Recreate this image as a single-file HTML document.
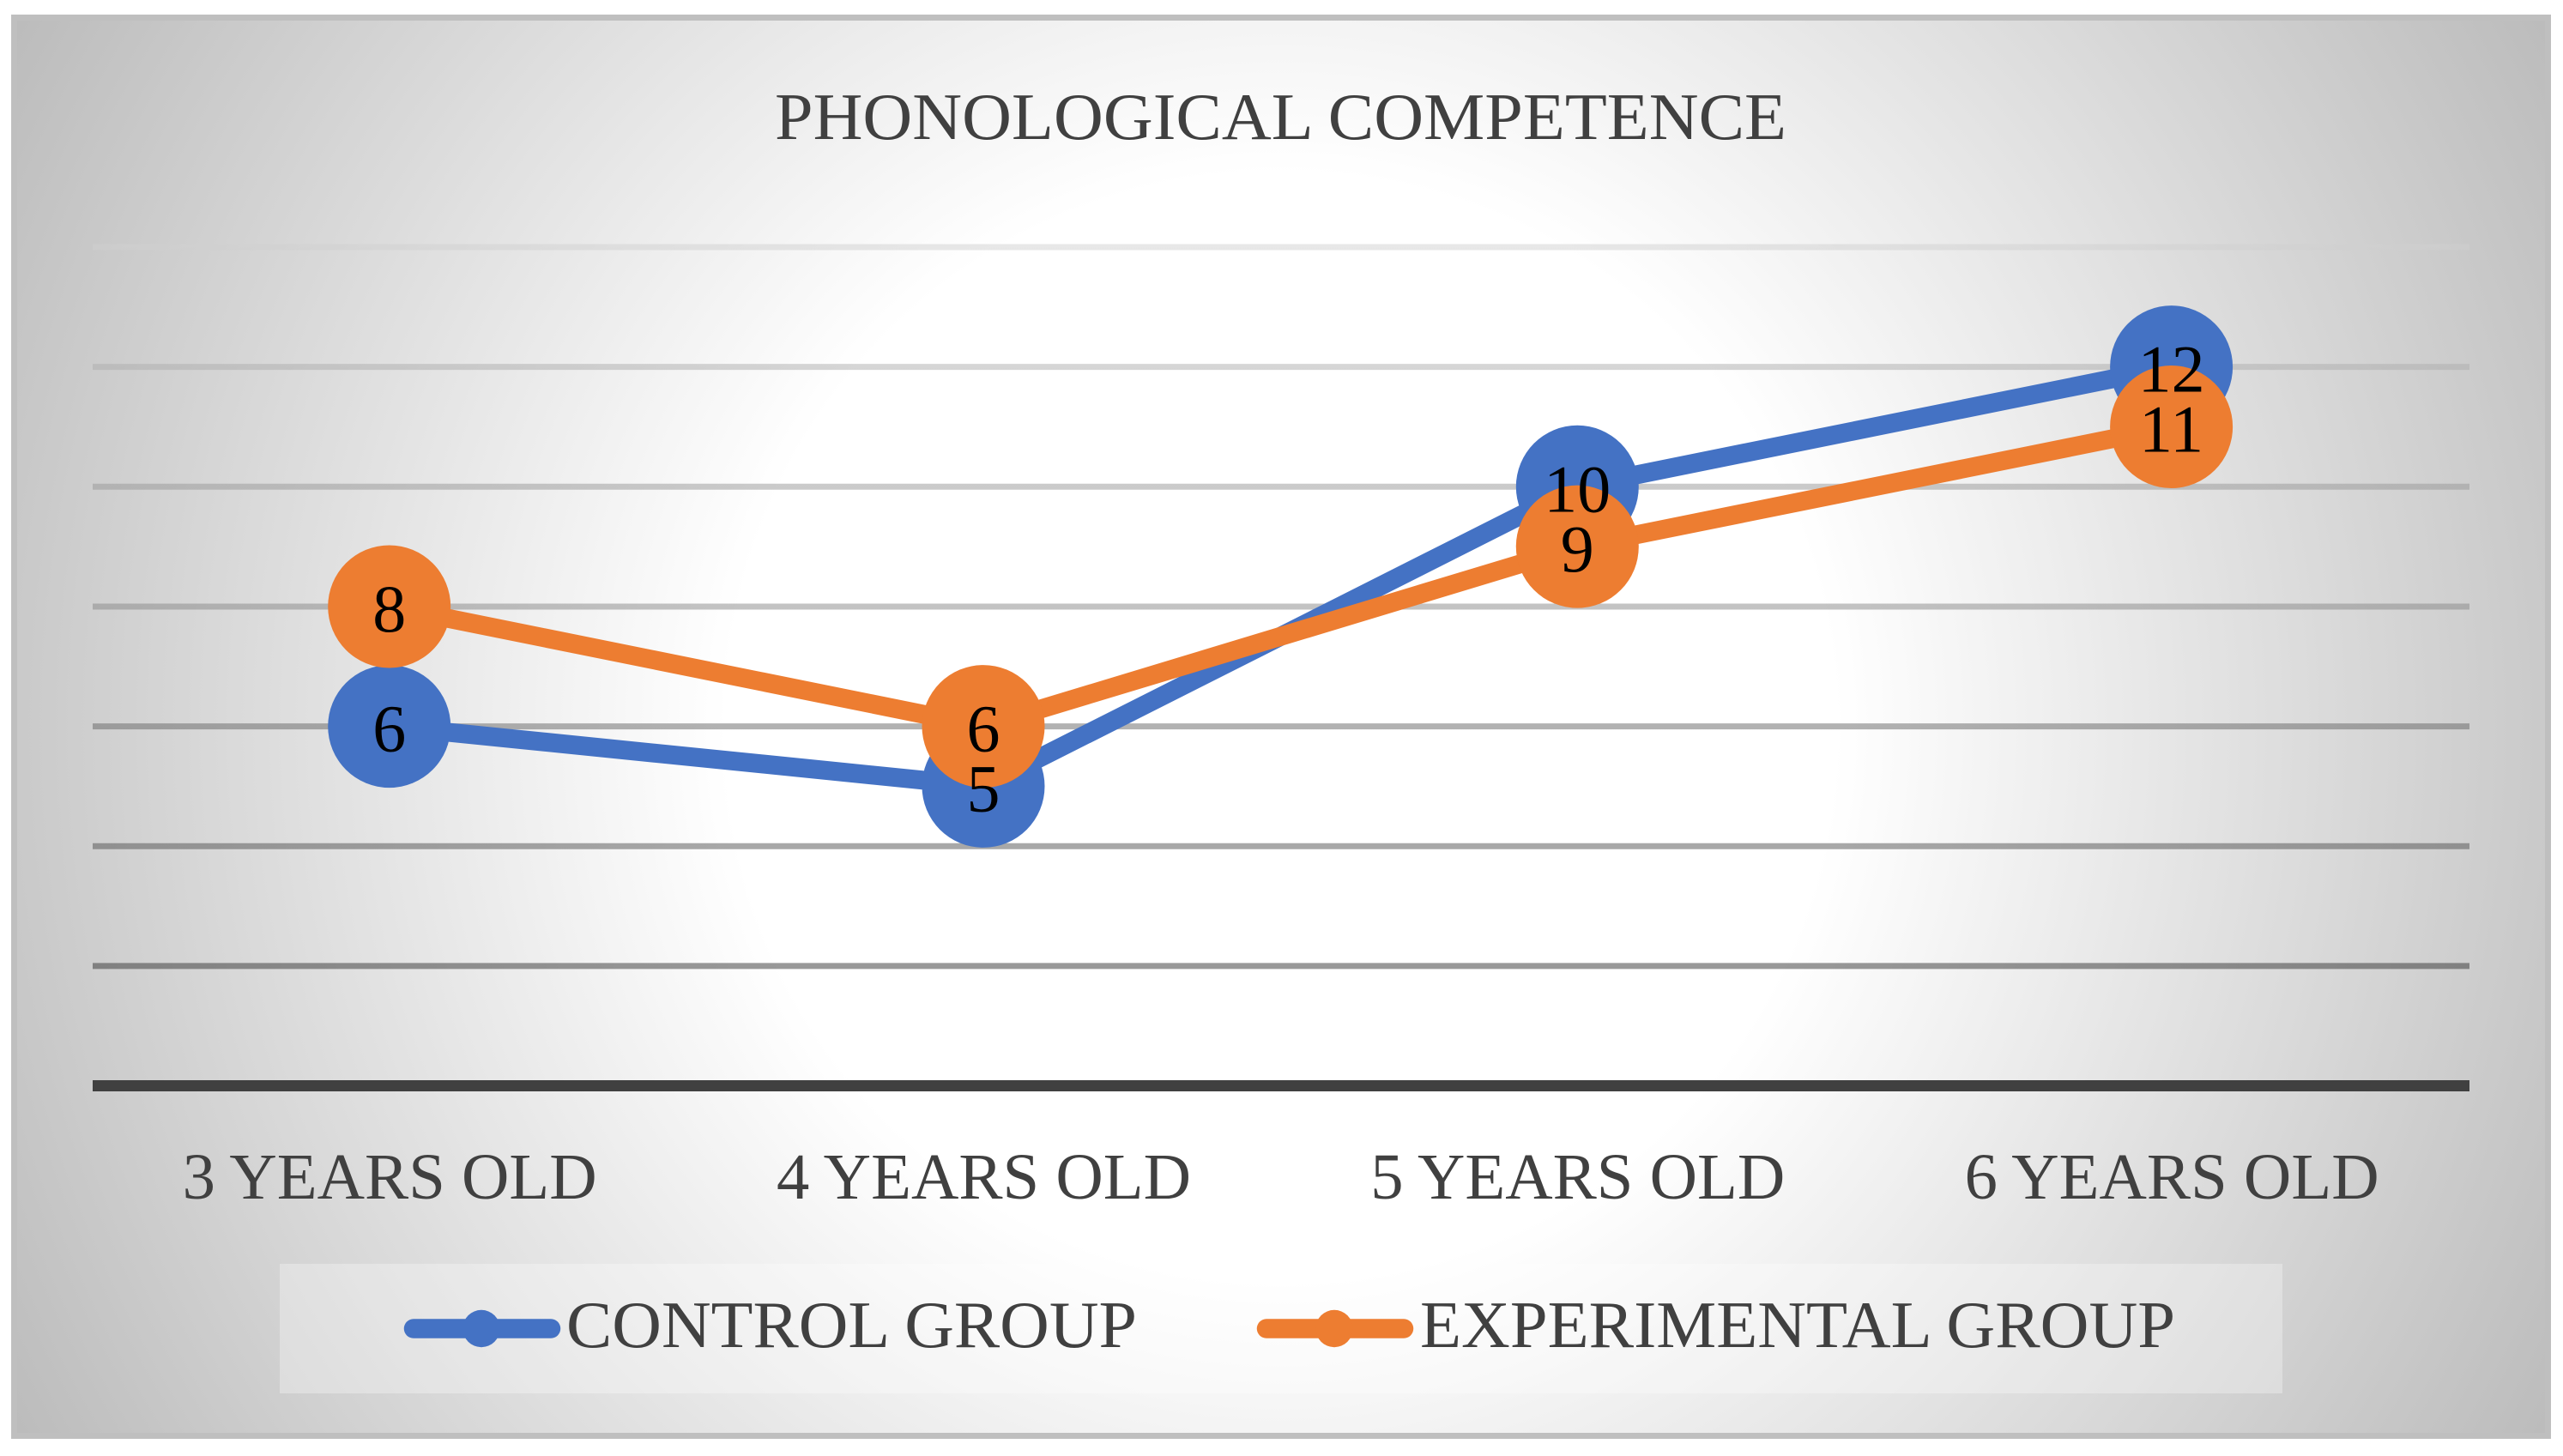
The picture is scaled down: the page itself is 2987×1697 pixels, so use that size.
<!DOCTYPE html>
<html lang="en">
<head>
<meta charset="utf-8">
<title>Phonological Competence</title>
<style>
html,body{margin:0;padding:0;background:#fff;width:2987px;height:1697px;overflow:hidden}
svg{display:block}
text{font-family:"Liberation Serif","DejaVu Serif",serif}
</style>
</head>
<body>
<svg id="chart" xmlns="http://www.w3.org/2000/svg" width="2987" height="1697" viewBox="0 0 2987 1697">
<defs>
<radialGradient id="bg-gradient" gradientUnits="userSpaceOnUse" cx="1493" cy="848" r="1700">
<stop offset="0" stop-color="#ffffff"/>
<stop offset="0.38" stop-color="#ffffff"/>
<stop offset="1" stop-color="#bbbbbb"/>
</radialGradient>
<linearGradient id="grid-gradient" gradientUnits="userSpaceOnUse" x1="0" y1="288" x2="0" y2="1126">
<stop offset="0" stop-color="#d0d0d0" stop-opacity="0.5"/>
<stop offset="0.1667" stop-color="#acacac" stop-opacity="0.5"/>
<stop offset="0.3333" stop-color="#969696" stop-opacity="0.5"/>
<stop offset="0.5" stop-color="#878787" stop-opacity="0.5"/>
<stop offset="0.6667" stop-color="#656565" stop-opacity="0.5"/>
<stop offset="0.8333" stop-color="#515151" stop-opacity="0.5"/>
<stop offset="1" stop-color="#333333" stop-opacity="0.5"/>
</linearGradient>
</defs>
<rect x="16.5" y="20.5" width="2953" height="1653" fill="url(#bg-gradient)" stroke="#bfbfbf" stroke-width="7"/>
<text x="903" y="162" font-size="77" fill="#404040" textLength="1179" lengthAdjust="spacingAndGlyphs">PHONOLOGICAL COMPETENCE</text>
<g id="grid"></g>
<g id="xlabels"></g>
<g id="series"></g>
<g id="labels"></g>
<rect x="326" y="1473" width="2334" height="151" fill="#ffffff" fill-opacity="0.3"/>
<g>
<line x1="482" y1="1548.5" x2="642" y2="1548.5" stroke="#4472c4" stroke-width="22.5" stroke-linecap="round"/>
<circle cx="561" cy="1548.5" r="21.7" fill="#4472c4"/>
<text x="660" y="1570" font-size="77" fill="#404040" textLength="665" lengthAdjust="spacingAndGlyphs">CONTROL GROUP</text>
</g>
<g>
<line x1="1476" y1="1548.5" x2="1636" y2="1548.5" stroke="#ed7d31" stroke-width="22.5" stroke-linecap="round"/>
<circle cx="1555" cy="1548.5" r="21.7" fill="#ed7d31"/>
<text x="1655" y="1570" font-size="77" fill="#404040" textLength="880" lengthAdjust="spacingAndGlyphs">EXPERIMENTAL GROUP</text>
</g>
</svg>
<script>
const categories = ['3 YEARS OLD', '4 YEARS OLD', '5 YEARS OLD', '6 YEARS OLD'];
const controlValues = [6, 5, 10, 12];
const experimentalValues = [8, 6, 9, 11];
const gridTicks = [2, 4, 6, 8, 10, 12, 14];
const axisBase = 0;

const NS = 'http://www.w3.org/2000/svg';
const PLOT_LEFT = 108;
const PLOT_RIGHT = 2878;
const FIRST_X = 453.7;
const STEP_X = 692.3;
const Y_ZERO = 1265.5;
const Y_UNIT = 69.82;
function xScale(i) { return FIRST_X + STEP_X * i; }
function yScale(v) { return Y_ZERO - Y_UNIT * v; }
function make(tag, attrs) {
  const el = document.createElementNS(NS, tag);
  for (const k in attrs) el.setAttribute(k, attrs[k]);
  return el;
}

const grid = document.getElementById('grid');
gridTicks.forEach(function (t) {
  const line = make('line', { x1: PLOT_LEFT, x2: PLOT_RIGHT, y1: yScale(t), y2: yScale(t), stroke: 'url(#grid-gradient)', 'stroke-width': 7 });
  
  
  grid.appendChild(line);
});
const axisLine = make('line', { x1: PLOT_LEFT, x2: PLOT_RIGHT, y1: yScale(axisBase), y2: yScale(axisBase), stroke: '#404040', 'stroke-width': 13 });


grid.appendChild(axisLine);

const xlabels = document.getElementById('xlabels');
categories.forEach(function (c, i) {
  const t = make('text', { x: xScale(i) - 241, y: 1397, 'font-size': 76, fill: '#404040', textLength: 483, lengthAdjust: 'spacingAndGlyphs' });
  t.textContent = c;
  
  
  xlabels.appendChild(t);
});

const seriesGroup = document.getElementById('series');
const labelsGroup = document.getElementById('labels');
function drawSeries(values, color) {
  const pts = values.map(function (v, i) { return xScale(i) + ',' + yScale(v); }).join(' ');
  const poly = make('polyline', { points: pts, fill: 'none', stroke: color, 'stroke-width': 22, 'stroke-linejoin': 'round' });
  
  
  seriesGroup.appendChild(poly);
  values.forEach(function (v, i) {
    const c = make('circle', { cx: xScale(i), cy: yScale(v), r: 71.5, fill: color });
    
    
    seriesGroup.appendChild(c);
    const t = make('text', { x: xScale(i), y: yScale(v) + 29, 'font-size': 78, fill: '#000000', 'text-anchor': 'middle' });
    t.textContent = String(v);
    
    
    labelsGroup.appendChild(t);
  });
}
drawSeries(controlValues, '#4472c4');
drawSeries(experimentalValues, '#ed7d31');
</script>
</body>
</html>
